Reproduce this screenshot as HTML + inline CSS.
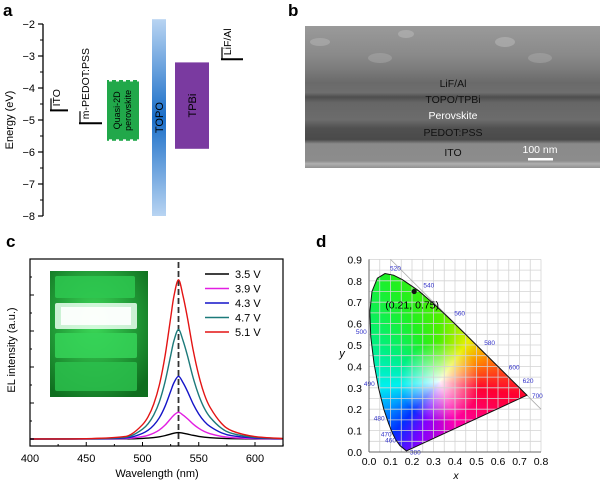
<!DOCTYPE html>
<html><head><meta charset="utf-8"><style>
body{margin:0;width:600px;height:484px;overflow:hidden;background:#fff;font-family:"Liberation Sans",sans-serif;position:relative}
#cie{position:absolute;left:0;top:0;width:600px;height:484px}
svg{position:absolute;left:0;top:0}
text{font-family:"Liberation Sans",sans-serif}
</style></head><body>
<div id="cie"></div>
<svg id="s" width="600" height="484">
<defs>
<linearGradient id="topo" x1="0" y1="0" x2="0" y2="1"><stop offset="0" stop-color="#b8d4f2"/><stop offset="0.5" stop-color="#1a6ec8"/><stop offset="1" stop-color="#b8d4f2"/></linearGradient>
<linearGradient id="sem" x1="0" y1="0" x2="0" y2="1">
<stop offset="0" stop-color="#9a9a9a"/><stop offset="0.2" stop-color="#8a8a8a"/><stop offset="0.3" stop-color="#7c7c7c"/>
<stop offset="0.4" stop-color="#6a6a6a"/><stop offset="0.47" stop-color="#6e6e6e"/><stop offset="0.5" stop-color="#4e4e4e"/>
<stop offset="0.54" stop-color="#666"/><stop offset="0.66" stop-color="#6c6c6c"/><stop offset="0.72" stop-color="#505050"/>
<stop offset="0.8" stop-color="#4a4a4a"/><stop offset="0.83" stop-color="#8a8a8a"/><stop offset="0.95" stop-color="#8c8c8c"/>
<stop offset="0.97" stop-color="#b0b0b0"/><stop offset="1" stop-color="#909090"/></linearGradient>
<radialGradient id="ins" cx="0.45" cy="0.4" r="0.7"><stop offset="0" stop-color="#3ddc5a"/><stop offset="1" stop-color="#0f6e1f"/></radialGradient>
</defs>
<g id="pa">
<text x="3" y="16" font-size="17" font-weight="bold">a</text>
</g>
<g id="pb">
<text x="288" y="16" font-size="17" font-weight="bold">b</text>
<rect x="305" y="26" width="295" height="142" fill="url(#sem)"/>
<ellipse cx="320" cy="42" rx="10" ry="4" fill="#b0b0b0" opacity="0.6"/>
<ellipse cx="406" cy="34" rx="8" ry="4" fill="#b5b5b5" opacity="0.6"/>
<ellipse cx="505" cy="42" rx="10" ry="5" fill="#b5b5b5" opacity="0.6"/>
<ellipse cx="380" cy="58" rx="12" ry="5" fill="#aaa" opacity="0.5"/>
<ellipse cx="540" cy="58" rx="12" ry="5" fill="#aaa" opacity="0.5"/>
<g font-size="10.5" text-anchor="middle">
<text x="453" y="87" fill="#111">LiF/Al</text>
<text x="453" y="103" fill="#111">TOPO/TPBi</text>
<text x="453" y="119" fill="#fff">Perovskite</text>
<text x="453" y="136" fill="#111">PEDOT:PSS</text>
<text x="453" y="156" fill="#111">ITO</text>
<text x="540" y="153" fill="#fff">100 nm</text>
</g>
<rect x="528" y="158" width="25" height="2.5" fill="#fff"/>
</g>
<g id="pc">
<text x="6" y="247" font-size="17" font-weight="bold">c</text>
</g>
<g id="pd">
<text x="316" y="247" font-size="17" font-weight="bold">d</text>
</g>
</svg>
<script>
const NS='http://www.w3.org/2000/svg';
function mk(p,tag,attrs,txt){const e=document.createElementNS(NS,tag);for(const k in attrs)e.setAttribute(k,attrs[k]);if(txt!==undefined)e.textContent=txt;p.appendChild(e);return e;}
// ===== Panel a data =====
const aLevelNames=['ITO','m-PEDOT:PSS','LiF/Al'];
const aLevelValues=[-4.7,-5.1,-3.1];
const aBoxNames=['Quasi-2D perovskite','TOPO','TPBi'];
const aBoxTop=[-3.75,-1.85,-3.2];
const aBoxBottom=[-5.65,-8.0,-5.9];
const aTicks=[-2,-3,-4,-5,-6,-7,-8];
const ay=v=>24+(-2-v)*32;
const pa=document.getElementById('pa');
mk(pa,'line',{x1:43,y1:ay(-2),x2:43,y2:ay(-8),stroke:'#000','stroke-width':1.3});
aTicks.forEach(t=>{
 const tk=mk(pa,'line',{x1:38,y1:ay(t),x2:43,y2:ay(t),stroke:'#000','stroke-width':1.2});
 
 const lb=mk(pa,'text',{x:35,y:ay(t)+4,'font-size':11,'text-anchor':'end'},'\u2212'+Math.abs(t));
 
 if(t>-8){mk(pa,'line',{x1:40,y1:ay(t-0.5),x2:43,y2:ay(t-0.5),stroke:'#000'});}
});
const ylab=mk(pa,'text',{x:13,y:120,'font-size':11,'text-anchor':'middle',transform:'rotate(-90 13 120)'},'Energy (eV)');

const lvX=[[50,68],[79,102],[221,243]];
aLevelValues.forEach((v,i)=>{
 const y=ay(v);
 const l=mk(pa,'line',{x1:lvX[i][0],y1:y,x2:lvX[i][1],y2:y,stroke:'#000','stroke-width':2});
 
 mk(pa,'line',{x1:lvX[i][0]+1,y1:y,x2:lvX[i][0]+1,y2:y-12,stroke:'#000','stroke-width':1.2});
 const t=mk(pa,'text',{x:0,y:0,'font-size':10.5,transform:`translate(${lvX[i][0]+10},${y-4}) rotate(-90)`},aLevelNames[i]);
 
});
const bxX=[[107,139],[152,166],[175,209]];
const bxFill=['#21a84a','url(#topo)','#7a3aa0'];
aBoxTop.forEach((v,i)=>{
 const y1=ay(v),y2=ay(aBoxBottom[i]);
 const r=mk(pa,'rect',{x:bxX[i][0],y:y1,width:bxX[i][1]-bxX[i][0],height:y2-y1,fill:bxFill[i]});
 
 const cx=(bxX[i][0]+bxX[i][1])/2,cy=(y1+y2)/2;
 if(i===0){
  for(let k=0;k<5;k++){mk(pa,'rect',{x:bxX[i][0]+2+k*7,y:y1-0.5,width:3,height:2,fill:'#fff'});mk(pa,'rect',{x:bxX[i][0]+2+k*7,y:y2-1.5,width:3,height:2,fill:'#fff'});}
  mk(pa,'text',{'font-size':9,'text-anchor':'middle',transform:`translate(${cx-3},${cy}) rotate(-90)`},'Quasi-2D');
  mk(pa,'text',{'font-size':9,'text-anchor':'middle',transform:`translate(${cx+8},${cy}) rotate(-90)`},'perovskite');
 } else {
  mk(pa,'text',{'font-size':11,'text-anchor':'middle',transform:`translate(${cx+4},${cy}) rotate(-90)`},aBoxNames[i]);
 }
});
// ===== Panel c data =====
const cWavelengths=[400,450,480,490,500,505,510,515,520,525,528,532,536,540,545,550,555,560,570,580,600,625];
const cProfile=[0,0.002,0.012,0.03,0.09,0.14,0.22,0.34,0.52,0.76,0.9,1,0.9,0.76,0.56,0.4,0.28,0.2,0.1,0.05,0.015,0.003];
const cVoltages=['3.5 V','3.9 V','4.3 V','4.7 V','5.1 V'];
const cPeaks=[0.18,0.74,1.74,3.04,4.42];
const cColors=['#000','#e21ee2','#1414c8','#1c7a7a','#e31414'];
const cXTicks=[400,450,500,550,600];
const cx=w=>30+(w-400)*1.125;
const cy=v=>439-v*36;
const pc=document.getElementById('pc');
mk(pc,'rect',{x:50,y:271,width:98,height:126,fill:'url(#ins)'});
[[55,276,80,22,'#2ec850'],[55,303,82,26,'#eafff0'],[55,333,82,25,'#36d458'],[55,362,82,29,'#2cc04c']].forEach(p=>mk(pc,'rect',{x:p[0],y:p[1],width:p[2],height:p[3],fill:p[4],rx:2,opacity:0.85}));
mk(pc,'rect',{x:61,y:307,width:70,height:18,fill:'#fff',opacity:0.9});
mk(pc,'line',{x1:cx(532),y1:262,x2:cx(532),y2:446,stroke:'#333','stroke-width':1.8,'stroke-dasharray':'6,3'});
cPeaks.forEach((pk,i)=>{
 const pts=cWavelengths.map((w,j)=>[cx(w),cy(pk*cProfile[j])]);
 let d='M'+pts[0][0]+','+pts[0][1];
 for(let j=1;j<pts.length;j++){const p0=pts[j-2]||pts[j-1],p1=pts[j-1],p2=pts[j],p3=pts[j+1]||p2;
  d+=` C${p1[0]+(p2[0]-p0[0])/6},${p1[1]+(p2[1]-p0[1])/6} ${p2[0]-(p3[0]-p1[0])/6},${p2[1]-(p3[1]-p1[1])/6} ${p2[0]},${p2[1]}`;}
 const ln=mk(pc,'path',{d:d,fill:'none',stroke:cColors[i],'stroke-width':1.4});
 
 
 const ly=274+i*14.5;
 mk(pc,'line',{x1:205,y1:ly,x2:229,y2:ly,stroke:cColors[i],'stroke-width':1.6});
 const lt=mk(pc,'text',{x:235,y:ly+4,'font-size':11},cVoltages[i]);
 
});
mk(pc,'rect',{x:30,y:259,width:253,height:187,fill:'none',stroke:'#000','stroke-width':1.2});
cXTicks.forEach(t=>{
 mk(pc,'line',{x1:cx(t),y1:446,x2:cx(t),y2:442,stroke:'#000'});
 const lb=mk(pc,'text',{x:cx(t),y:462,'font-size':11,'text-anchor':'middle'},t);
 
 mk(pc,'line',{x1:cx(t+25),y1:446,x2:cx(t+25),y2:444,stroke:'#000'});
});
for(let k=0;k<=4;k++){mk(pc,'line',{x1:30,y1:cy(k),x2:34,y2:cy(k),stroke:'#000'});mk(pc,'line',{x1:30,y1:cy(k+0.5),x2:32,y2:cy(k+0.5),stroke:'#000'});}
const cxl=mk(pc,'text',{x:157,y:477,'font-size':11,'text-anchor':'middle'},'Wavelength (nm)');

const cyl=mk(pc,'text',{'font-size':11,'text-anchor':'middle',transform:'translate(15,350) rotate(-90)'},'EL intensity (a.u.)');

// ===== Panel d data =====
const dLocusNm=[380,460,470,475,480,485,490,495,500,505,510,515,520,525,530,540,550,560,570,580,590,600,620,700];
const dLocusX=[0.1741,0.1440,0.1241,0.1096,0.0913,0.0687,0.0454,0.0235,0.0082,0.0039,0.0139,0.0389,0.0743,0.1142,0.1547,0.2296,0.3016,0.3731,0.4441,0.5125,0.5752,0.6270,0.6915,0.7347];
const dLocusY=[0.0050,0.0297,0.0578,0.0868,0.1327,0.2007,0.2950,0.4127,0.5384,0.6548,0.7502,0.8120,0.8338,0.8262,0.8059,0.7543,0.6923,0.6245,0.5547,0.4866,0.4242,0.3725,0.3083,0.2653];
const dLabelNm=[460,470,480,490,500,520,540,560,580,600,620,700];
const dPointX=[0.21],dPointY=[0.75];
const dXTicks=[0,0.1,0.2,0.3,0.4,0.5,0.6,0.7,0.8];
const dYTicks=[0,0.1,0.2,0.3,0.4,0.5,0.6,0.7,0.8,0.9];
const dx=v=>369+v*215;
const dy=v=>452-v*214;
const pd=document.getElementById('pd');
for(let k=0;k<=16;k++){mk(pd,'line',{x1:dx(k*0.05),y1:dy(0),x2:dx(k*0.05),y2:dy(0.9),stroke:'#d4d4d4','stroke-width':0.8});}
for(let k=0;k<=18;k++){mk(pd,'line',{x1:dx(0),y1:dy(k*0.05),x2:dx(0.8),y2:dy(k*0.05),stroke:'#d4d4d4','stroke-width':0.8});}
mk(pd,'line',{x1:dx(0.1),y1:dy(0.9),x2:dx(0.8),y2:dy(0.2),stroke:'#aaa','stroke-width':0.8});
const poly=dLocusX.map((x,i)=>dx(x)+'px '+dy(dLocusY[i])+'px').join(',');
const wx=dx(0.33),wy=dy(0.33);
const cie=document.getElementById('cie');
cie.style.clipPath='polygon('+poly+')';
cie.style.background=`radial-gradient(circle at ${wx}px ${wy}px, rgba(255,255,255,0.95) 0px, rgba(255,255,255,0) 40px), conic-gradient(from 0deg at ${wx}px ${wy}px, #50f000 0deg, #e8f000 35deg, #ff8c00 62deg, #ff0030 100deg, #ff00b0 160deg, #8000ff 200deg, #0030ff 222deg, #00a0ff 245deg, #00f0f0 265deg, #00f080 300deg, #20f020 335deg, #50f000 360deg)`;
const locusPath='M'+dLocusX.map((x,i)=>dx(x)+','+dy(dLocusY[i])).join(' L')+' Z';
mk(pd,'path',{d:locusPath,fill:'none',stroke:'#111','stroke-width':1});
dLabelNm.forEach(nm=>{
 const i=dLocusNm.indexOf(nm);const px=dx(dLocusX[i]),py=dy(dLocusY[i]);
 const left=nm<=500;
 const t=mk(pd,'text',{x:left?px-4:px+5,y:py+(nm>=700?3:-3),'font-size':6.5,fill:'#3030c8','text-anchor':left?'end':'start'},nm);
 
});
mk(pd,'text',{x:dx(0.19),y:dy(0.003)+3,'font-size':6.5,fill:'#3030c8'},'380');
dPointX.forEach((x,i)=>{
 const c=mk(pd,'circle',{cx:dx(x),cy:dy(dPointY[i]),r:2.6,fill:'#111'});
 
 const t=mk(pd,'text',{x:dx(x)-2,y:dy(dPointY[i])+17,'font-size':10.5,'text-anchor':'middle'},'('+x.toFixed(2)+', '+dPointY[i].toFixed(2)+')');
 
});
mk(pd,'line',{x1:dx(0),y1:dy(0),x2:dx(0.8),y2:dy(0),stroke:'#666'});
mk(pd,'line',{x1:dx(0),y1:dy(0),x2:dx(0),y2:dy(0.9),stroke:'#666'});
dXTicks.forEach(t=>{const l=mk(pd,'text',{x:dx(t),y:465,'font-size':10.5,'text-anchor':'middle'},t.toFixed(1));});
dYTicks.forEach(t=>{const l=mk(pd,'text',{x:362,y:dy(t)+4,'font-size':10.5,'text-anchor':'end'},t.toFixed(1));});
const dxl=mk(pd,'text',{x:456,y:479,'font-size':10.5,'font-style':'italic','text-anchor':'middle'},'x');

const dyl=mk(pd,'text',{x:342,y:357,'font-size':11,'font-style':'italic','text-anchor':'middle'},'y');

</script>
</body></html>
